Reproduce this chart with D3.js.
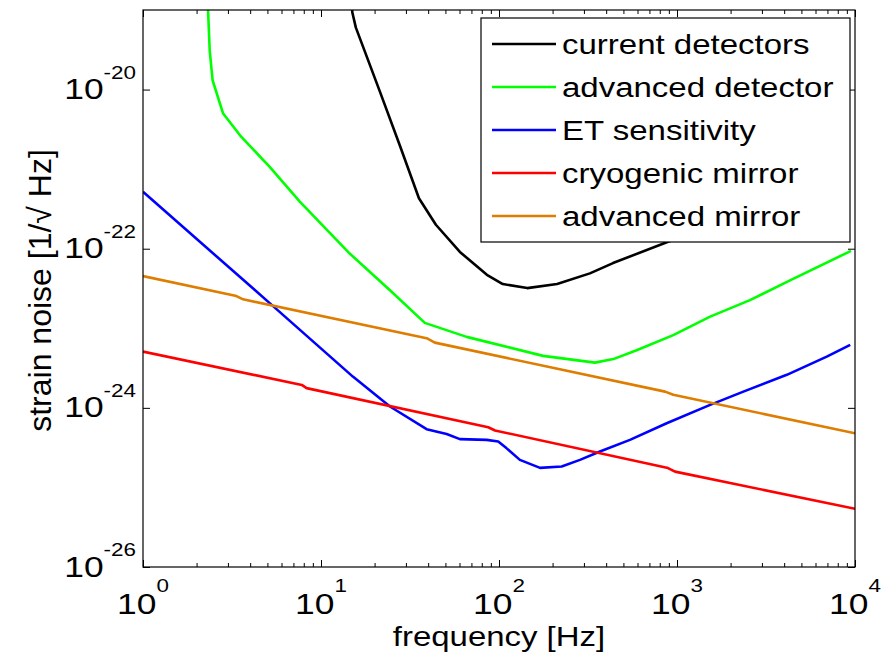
<!DOCTYPE html>
<html>
<head>
<meta charset="utf-8">
<script src="https://cdn.jsdelivr.net/npm/d3@7"></script>
<style>
  html, body { margin: 0; padding: 0; background: #fff; }
  svg { display: block; }
  text { font-family: "Liberation Sans", Arial, Helvetica, sans-serif; fill: #000; }
</style>
</head>
<body>
<svg id="chart" width="887" height="659"></svg>
<script>
// ---------------- data ----------------
const freqCurrent   = [14.8, 15.0, 15.7, 21.4, 27.7, 35.5, 44.2, 60.3, 85.5, 105, 144, 212, 324, 437, 937, 2930];
const strainCurrent = [1.32e-19, 9.3e-20, 6.0e-20, 9.5e-21, 2.0e-21, 4.3e-22, 2.0e-22, 9.1e-23, 4.7e-23, 3.6e-23, 3.2e-23, 3.6e-23, 4.9e-23, 6.6e-23, 1.28e-22, 3.5e-22];

const freqAdvanced   = [2.30, 2.32, 2.37, 2.46, 2.82, 3.57, 5.15, 7.60, 14.5, 24.4, 38.3, 65.8, 177, 346, 439, 593, 953, 1535, 2570, 4315, 9500];
const strainAdvanced = [1.5e-19, 9.9e-20, 3.1e-20, 1.31e-20, 5.0e-21, 2.54e-21, 1.07e-21, 3.9e-22, 8.7e-23, 3.0e-23, 1.17e-23, 7.8e-24, 4.5e-24, 3.7e-24, 4.1e-24, 5.3e-24, 8.2e-24, 1.4e-23, 2.26e-23, 4.0e-23, 9.4e-23];

const freqET   = [1, 5.38, 15.1, 24.4, 39.2, 50.8, 60.3, 85.2, 99, 110, 131, 170, 225, 285, 369, 544, 875, 1535, 2360, 4140, 6940, 9400];
const strainET = [5.2e-22, 1.9e-23, 2.47e-24, 1.04e-24, 5.4e-25, 4.7e-25, 4.05e-25, 3.96e-25, 3.78e-25, 3.12e-25, 2.22e-25, 1.76e-25, 1.83e-25, 2.22e-25, 2.83e-25, 3.96e-25, 6.4e-25, 1.09e-24, 1.6e-24, 2.6e-24, 4.4e-24, 6.2e-24];

const freqCryo   = [1, 7.8, 8.3, 87, 95, 890, 975, 10000];
const strainCryo = [5.1e-24, 1.94e-24, 1.77e-24, 5.7e-25, 5.2e-25, 1.75e-25, 1.58e-25, 5.4e-26];

const freqAdvMirror   = [1, 3.35, 3.65, 39.2, 43.6, 857, 953, 10000];
const strainAdvMirror = [4.53e-23, 2.54e-23, 2.31e-23, 7.5e-24, 6.6e-24, 1.6e-24, 1.46e-24, 4.8e-25];

const seriesNames  = ["current detectors", "advanced detector", "ET sensitivity", "cryogenic mirror", "advanced mirror"];
const seriesColors = ["#000000", "#00ff00", "#0000ff", "#ff0000", "#de7d00"];

const xTickExps = [0, 1, 2, 3, 4];
const yTickExps = [-26, -24, -22, -20];
const xDomain = [1, 1e4];
const yDomain = [1e-26, 1e-19];
const xLabel = "frequency [Hz]";
const yLabel = "strain noise [1/\u221A Hz]";

// ---------------- layout ----------------
const pL = 143, pR = 855, pT = 10, pB = 567;
const svg = d3.select("#chart");

const x = d3.scaleLog().domain(xDomain).range([pL, pR]);
const y = d3.scaleLog().domain(yDomain).range([pB, pT]);

const series = [
  {f: freqCurrent, s: strainCurrent},
  {f: freqAdvanced, s: strainAdvanced},
  {f: freqET, s: strainET},
  {f: freqCryo, s: strainCryo},
  {f: freqAdvMirror, s: strainAdvMirror}
].map((d, i) => ({name: seriesNames[i], color: seriesColors[i],
                  pts: d.f.map((fv, j) => [fv, d.s[j]])}));

svg.append("defs").append("clipPath").attr("id", "plotclip")
  .append("rect").attr("x", pL).attr("y", pT)
  .attr("width", pR - pL).attr("height", pB - pT);

svg.append("rect").attr("x", pL).attr("y", pT)
  .attr("width", pR - pL).attr("height", pB - pT).attr("fill", "#fff");

// ---------------- lines ----------------
const line = d3.line().x(d => x(d[0])).y(d => y(d[1]));
const gLines = svg.append("g").attr("clip-path", "url(#plotclip)");
series.forEach(s => {
  gLines.append("path").datum(s.pts)
    .attr("d", line).attr("fill", "none")
    .attr("stroke", s.color).attr("stroke-width", 2.6)
    .attr("stroke-linejoin", "round");
});

// ---------------- axes ----------------
const xMajor = xTickExps.map(e => Math.pow(10, e));
const xMinor = x.ticks().filter(v => !xMajor.some(m => Math.abs(m - v) / m < 1e-9));
const yMajor = yTickExps.map(e => Math.pow(10, e));

function styleAxis(g) {
  g.select(".domain").remove();
  g.selectAll(".tick line").attr("stroke", "#000").attr("stroke-width", 1);
  g.selectAll(".tick text").remove();
}

svg.append("g").attr("transform", `translate(0,${pB})`)
  .call(d3.axisBottom(x).tickValues(xMajor).tickSize(-7).tickFormat(""))
  .call(styleAxis);
svg.append("g").attr("transform", `translate(0,${pB})`)
  .call(d3.axisBottom(x).tickValues(xMinor).tickSize(-4).tickFormat(""))
  .call(styleAxis);
svg.append("g").attr("transform", `translate(0,${pT})`)
  .call(d3.axisTop(x).tickValues(xMajor).tickSize(-7).tickFormat(""))
  .call(styleAxis);
svg.append("g").attr("transform", `translate(0,${pT})`)
  .call(d3.axisTop(x).tickValues(xMinor).tickSize(-4).tickFormat(""))
  .call(styleAxis);
svg.append("g").attr("transform", `translate(${pL},0)`)
  .call(d3.axisLeft(y).tickValues(yMajor).tickSize(-7).tickFormat(""))
  .call(styleAxis);
svg.append("g").attr("transform", `translate(${pR},0)`)
  .call(d3.axisRight(y).tickValues(yMajor).tickSize(-7).tickFormat(""))
  .call(styleAxis);

svg.append("rect").attr("x", pL).attr("y", pT)
  .attr("width", pR - pL).attr("height", pB - pT)
  .attr("fill", "none").attr("stroke", "#000").attr("stroke-width", 1.2);

// ---------------- tick labels ----------------
const tickFont = 30, expFont = 19, stretch = 1.18;
xTickExps.forEach(e => {
  const t = svg.append("text")
    .attr("transform", `translate(${x(Math.pow(10, e))},${pB + 47}) scale(${stretch},1)`)
    .attr("text-anchor", "middle").style("font-size", tickFont + "px");
  t.append("tspan").text("10");
  t.append("tspan").attr("dy", -22).style("font-size", expFont + "px").text(String(e));
});
yTickExps.forEach(e => {
  const t = svg.append("text")
    .attr("transform", `translate(${pL - 7},${y(Math.pow(10, e)) + 9.5}) scale(${stretch},1)`)
    .attr("text-anchor", "end").style("font-size", tickFont + "px");
  t.append("tspan").text("10");
  t.append("tspan").attr("dy", -20.5).style("font-size", expFont + "px").text(String(e));
});

// ---------------- axis labels ----------------
svg.append("text")
  .attr("transform", `translate(${(pL + pR) / 2},646) scale(1.22,1)`)
  .attr("text-anchor", "middle").style("font-size", "27px").text(xLabel);
svg.append("text")
  .attr("transform", `translate(51,${(pT + pB) / 2 + 2}) rotate(-90)`)
  .attr("text-anchor", "middle").style("font-size", "32px").text(yLabel);

// ---------------- legend ----------------
const lg = {x: 481, y: 18, w: 369, h: 224, row0: 44, step: 43};
const gLeg = svg.append("g");
gLeg.append("rect").attr("x", lg.x).attr("y", lg.y).attr("width", lg.w).attr("height", lg.h)
  .attr("fill", "#fff").attr("stroke", "#000").attr("stroke-width", 1.2);
series.forEach((s, i) => {
  const ry = lg.row0 + i * lg.step;
  gLeg.append("line").attr("x1", lg.x + 11).attr("x2", lg.x + 75)
    .attr("y1", ry).attr("y2", ry).attr("stroke", s.color).attr("stroke-width", 2.6);
  gLeg.append("text")
    .attr("transform", `translate(${lg.x + 81},${ry + 10}) scale(1.2,1)`)
    .style("font-size", "27.5px").text(s.name);
});
</script>
</body>
</html>
